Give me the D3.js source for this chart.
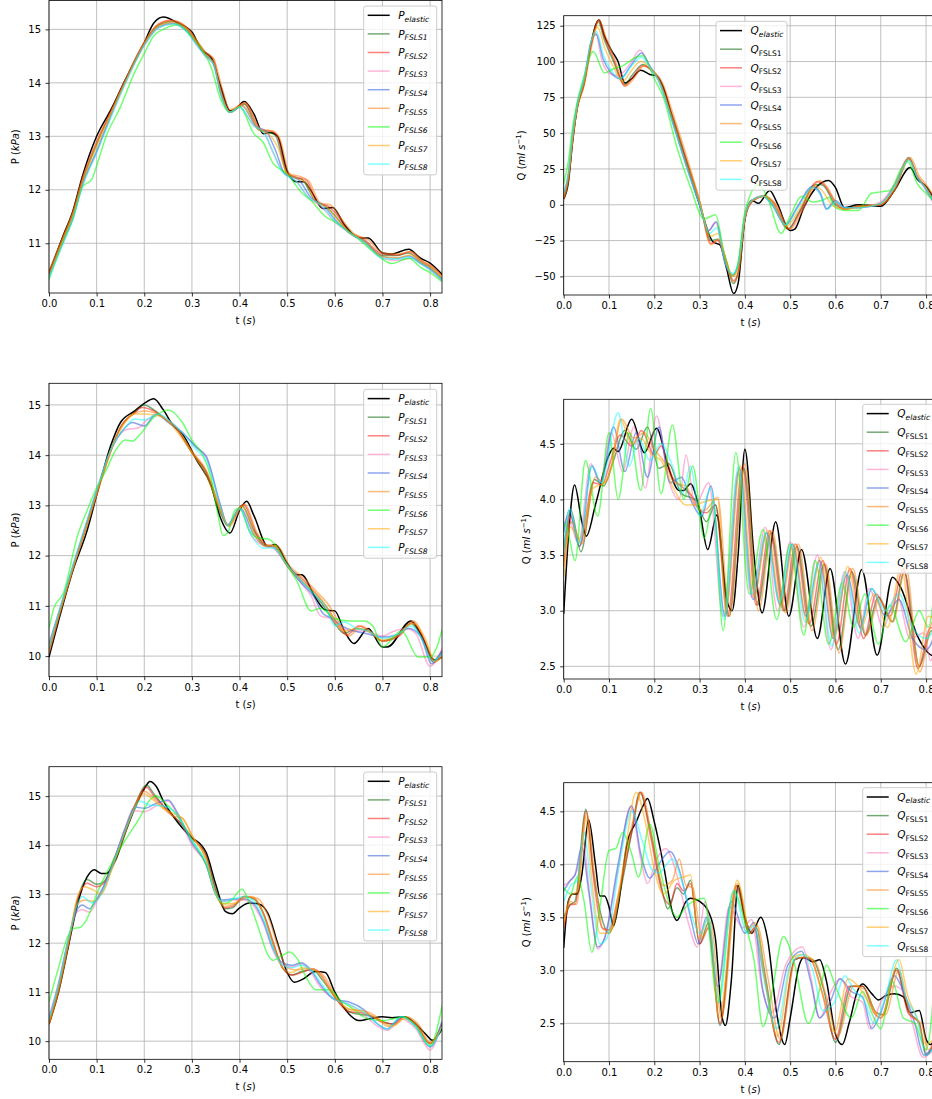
<!DOCTYPE html>
<html>
<head>
<meta charset="utf-8">
<script src="https://cdn.jsdelivr.net/npm/d3@7"></script>
<style>
  body { margin: 0; background: #fff; }
  text { font-family: "DejaVu Sans", sans-serif; font-size: 10px; fill: #000; }
</style>
</head>
<body>
<svg id="fig" width="932" height="1099"></svg>
<script>
// ---- ticks ----
const xTicks = [0, 0.1, 0.2, 0.3, 0.4, 0.5, 0.6, 0.7, 0.8]
const pTicks1 = [11, 12, 13, 14, 15]
const pTicks2 = [10, 11, 12, 13, 14, 15]
const qTicks1 = [-50, -25, 0, 25, 50, 75, 100, 125]
const qTicks2 = [2.5, 3.0, 3.5, 4.0, 4.5]

const seriesNames = ["elastic", "FSLS1", "FSLS2", "FSLS3", "FSLS4", "FSLS5", "FSLS6", "FSLS7", "FSLS8"]
const seriesColors = ["#000000", "#006400", "#ff0000", "#ff69b4", "#4169e1", "#ff7f0e", "#00ff00", "#ffa500", "#00ffff"]
const seriesAlpha = [1, 0.55, 0.5, 0.5, 0.6, 0.55, 0.55, 0.55, 0.5]

// ---- panel 1 : pressure, top ----  [t, P]
const p1_el = [[0,10.45],[0.03,11.15],[0.05,11.6],[0.07,12.25],[0.1,13.0],[0.13,13.5],[0.16,14.05],[0.2,14.75],[0.22,15.12],[0.24,15.23],[0.27,15.12],[0.3,14.95],[0.32,14.62],[0.34,14.48],[0.36,13.95],[0.38,13.48],[0.39,13.5],[0.41,13.65],[0.43,13.42],[0.45,13.05],[0.465,13.07],[0.48,13.0],[0.5,12.35],[0.52,12.15],[0.535,12.15],[0.55,11.98],[0.575,11.65],[0.595,11.67],[0.62,11.35],[0.65,11.1],[0.67,11.1],[0.7,10.82],[0.72,10.8],[0.755,10.89],[0.78,10.72],[0.8,10.63],[0.825,10.42]]
const p1_s1 = [[0,10.42],[0.03,11.1],[0.05,11.55],[0.07,12.15],[0.1,12.85],[0.13,13.45],[0.16,14.05],[0.2,14.75],[0.23,15.08],[0.26,15.15],[0.29,15.0],[0.31,14.75],[0.33,14.52],[0.345,14.4],[0.36,13.85],[0.38,13.45],[0.41,13.6],[0.44,13.12],[0.46,13.08],[0.475,13.02],[0.5,12.3],[0.52,12.22],[0.53,12.2],[0.56,11.78],[0.58,11.7],[0.6,11.52],[0.63,11.2],[0.66,11.05],[0.7,10.77],[0.73,10.77],[0.755,10.82],[0.78,10.65],[0.8,10.55],[0.825,10.35]]
const p1_s2 = [[0,10.45],[0.03,11.12],[0.05,11.57],[0.07,12.2],[0.1,12.9],[0.13,13.47],[0.16,14.05],[0.2,14.75],[0.23,15.1],[0.255,15.17],[0.29,15.02],[0.31,14.78],[0.33,14.55],[0.345,14.45],[0.36,13.9],[0.38,13.47],[0.41,13.62],[0.445,13.12],[0.465,13.1],[0.48,13.0],[0.5,12.32],[0.525,12.22],[0.54,12.18],[0.565,11.75],[0.585,11.7],[0.6,11.58],[0.63,11.22],[0.66,11.08],[0.7,10.8],[0.73,10.78],[0.758,10.84],[0.78,10.68],[0.8,10.58],[0.825,10.4]]
const p1_s3 = [[0,10.38],[0.03,11.02],[0.05,11.45],[0.07,12.08],[0.1,12.7],[0.13,13.38],[0.16,14.0],[0.2,14.7],[0.23,15.03],[0.26,15.1],[0.29,14.95],[0.31,14.72],[0.33,14.48],[0.345,14.35],[0.36,13.8],[0.38,13.45],[0.4,13.55],[0.43,13.2],[0.45,13.1],[0.47,12.7],[0.49,12.35],[0.52,12.15],[0.545,11.85],[0.57,11.7],[0.6,11.4],[0.63,11.2],[0.66,11.02],[0.7,10.72],[0.73,10.68],[0.76,10.72],[0.78,10.62],[0.8,10.5],[0.825,10.3]]
const p1_s4 = [[0,10.4],[0.03,11.05],[0.05,11.48],[0.07,12.1],[0.1,12.72],[0.13,13.4],[0.16,14.02],[0.2,14.72],[0.23,15.05],[0.26,15.12],[0.29,14.97],[0.31,14.73],[0.33,14.5],[0.345,14.38],[0.36,13.82],[0.38,13.45],[0.405,13.57],[0.435,13.18],[0.455,13.1],[0.475,12.75],[0.495,12.3],[0.525,12.18],[0.55,11.85],[0.575,11.72],[0.6,11.45],[0.63,11.2],[0.66,11.05],[0.7,10.75],[0.73,10.72],[0.755,10.76],[0.78,10.63],[0.8,10.52],[0.825,10.32]]
const p1_s5 = [[0,10.47],[0.03,11.13],[0.05,11.58],[0.07,12.2],[0.1,12.88],[0.13,13.46],[0.16,14.04],[0.2,14.76],[0.23,15.1],[0.26,15.16],[0.29,15.03],[0.31,14.8],[0.33,14.56],[0.345,14.46],[0.365,13.85],[0.38,13.5],[0.412,13.63],[0.445,13.13],[0.47,13.1],[0.485,12.95],[0.505,12.3],[0.53,12.24],[0.545,12.17],[0.57,11.75],[0.59,11.72],[0.61,11.5],[0.64,11.18],[0.67,11.07],[0.7,10.82],[0.73,10.8],[0.76,10.84],[0.785,10.66],[0.8,10.6],[0.825,10.38]]
const p1_s6 = [[0,10.32],[0.03,11.05],[0.05,11.45],[0.07,12.05],[0.09,12.2],[0.1,12.45],[0.12,13.0],[0.15,13.55],[0.18,14.2],[0.2,14.55],[0.22,14.88],[0.24,15.0],[0.27,15.08],[0.3,14.85],[0.32,14.65],[0.34,14.3],[0.36,13.7],[0.38,13.45],[0.4,13.55],[0.43,13.05],[0.45,12.88],[0.47,12.5],[0.5,12.3],[0.53,11.95],[0.55,11.8],[0.58,11.5],[0.6,11.4],[0.64,11.15],[0.68,10.85],[0.72,10.62],[0.755,10.72],[0.78,10.55],[0.8,10.45],[0.825,10.28]]
const p1_s7 = [[0,10.4],[0.03,11.08],[0.05,11.52],[0.07,12.12],[0.1,12.8],[0.13,13.42],[0.16,14.0],[0.2,14.72],[0.23,15.06],[0.26,15.13],[0.29,15.0],[0.31,14.75],[0.33,14.5],[0.345,14.38],[0.36,13.85],[0.38,13.45],[0.405,13.58],[0.44,13.12],[0.46,13.05],[0.48,12.8],[0.5,12.3],[0.525,12.2],[0.54,12.12],[0.56,11.78],[0.585,11.66],[0.6,11.5],[0.63,11.2],[0.66,11.05],[0.7,10.75],[0.73,10.73],[0.76,10.78],[0.78,10.65],[0.8,10.55],[0.825,10.35]]
const p1_s8 = [[0,10.35],[0.03,11.0],[0.05,11.45],[0.07,12.05],[0.1,12.7],[0.13,13.35],[0.16,13.98],[0.2,14.7],[0.23,15.03],[0.26,15.1],[0.29,14.95],[0.31,14.7],[0.33,14.48],[0.345,14.35],[0.36,13.8],[0.38,13.45],[0.4,13.55],[0.43,13.2],[0.45,13.08],[0.47,12.72],[0.49,12.33],[0.52,12.15],[0.545,11.85],[0.57,11.72],[0.6,11.42],[0.63,11.2],[0.66,11.03],[0.7,10.72],[0.73,10.7],[0.755,10.74],[0.78,10.62],[0.8,10.5],[0.825,10.32]]

// ---- panel 2 : flow, top ----  [t, Q]
const q1_el = [[0,4],[0.01,15],[0.02,45],[0.03,68],[0.045,85],[0.06,112],[0.078,129],[0.09,118],[0.105,108],[0.12,100],[0.135,85],[0.15,88],[0.17,94],[0.19,91],[0.205,90],[0.22,82],[0.24,60],[0.27,30],[0.3,0],[0.33,-26],[0.345,-28],[0.36,-45],[0.375,-62],[0.385,-55],[0.4,-10],[0.415,3],[0.43,1],[0.455,10],[0.47,2],[0.5,-18],[0.51,-17],[0.53,-2],[0.56,13],[0.585,17],[0.6,12],[0.62,-2],[0.65,0],[0.7,-1],[0.73,10],[0.765,26],[0.78,18],[0.8,13],[0.825,0]]
const q1_s1 = [[0,5],[0.01,18],[0.02,47],[0.03,68],[0.045,85],[0.06,112],[0.076,128],[0.09,115],[0.11,100],[0.135,84],[0.15,90],[0.175,98],[0.19,95],[0.21,88],[0.24,62],[0.27,32],[0.3,2],[0.325,-25],[0.34,-24],[0.36,-40],[0.374,-55],[0.385,-48],[0.4,-10],[0.415,2],[0.44,6],[0.46,2],[0.495,-17],[0.52,-5],[0.555,14],[0.57,14],[0.6,0],[0.62,-3],[0.65,-1],[0.7,0],[0.73,10],[0.762,33],[0.78,20],[0.8,12],[0.825,-2]]
const q1_s2 = [[0,4],[0.01,17],[0.02,46],[0.03,68],[0.045,84],[0.06,110],[0.077,129],[0.09,117],[0.11,102],[0.135,83],[0.15,88],[0.175,97],[0.19,95],[0.21,88],[0.24,62],[0.27,32],[0.3,2],[0.325,-27],[0.34,-25],[0.36,-42],[0.375,-53],[0.385,-47],[0.4,-10],[0.415,2],[0.445,6],[0.465,1],[0.497,-17],[0.52,-6],[0.56,16],[0.575,14],[0.6,2],[0.62,-3],[0.65,-1],[0.7,0],[0.73,10],[0.763,32],[0.78,20],[0.8,12],[0.825,-1]]
const q1_s3 = [[0,8],[0.01,22],[0.02,50],[0.03,70],[0.045,88],[0.06,112],[0.07,120],[0.085,100],[0.1,92],[0.12,90],[0.15,100],[0.168,108],[0.19,96],[0.21,86],[0.24,58],[0.27,28],[0.3,0],[0.32,-18],[0.335,-12],[0.355,-40],[0.373,-50],[0.385,-42],[0.4,-8],[0.415,3],[0.44,6],[0.46,0],[0.49,-14],[0.515,-2],[0.55,12],[0.565,8],[0.58,-3],[0.6,2],[0.62,-2],[0.65,-2],[0.7,2],[0.73,14],[0.76,32],[0.78,20],[0.8,10],[0.825,-4]]
const q1_s4 = [[0,7],[0.01,20],[0.02,49],[0.03,70],[0.045,87],[0.06,113],[0.072,119],[0.087,102],[0.105,92],[0.125,88],[0.15,98],[0.172,106],[0.19,97],[0.21,87],[0.24,58],[0.27,28],[0.3,0],[0.32,-18],[0.337,-12],[0.356,-40],[0.373,-49],[0.385,-42],[0.4,-8],[0.415,3],[0.44,6],[0.46,0],[0.49,-14],[0.515,-2],[0.55,13],[0.567,8],[0.58,-3],[0.6,3],[0.62,-2],[0.65,-2],[0.7,1],[0.73,13],[0.762,32],[0.78,20],[0.8,11],[0.825,-3]]
const q1_s5 = [[0,4],[0.01,16],[0.02,45],[0.03,67],[0.045,83],[0.06,108],[0.079,129],[0.092,118],[0.112,102],[0.137,83],[0.152,87],[0.178,97],[0.195,94],[0.215,87],[0.245,60],[0.275,30],[0.3,3],[0.325,-28],[0.342,-24],[0.36,-42],[0.376,-54],[0.387,-46],[0.4,-10],[0.418,3],[0.445,6],[0.467,1],[0.5,-17],[0.525,-5],[0.565,17],[0.58,13],[0.605,0],[0.625,-3],[0.65,-1],[0.7,0],[0.73,10],[0.765,33],[0.785,20],[0.8,14],[0.825,2]]
const q1_s6 = [[0,15],[0.01,30],[0.02,55],[0.03,72],[0.045,90],[0.065,107],[0.09,92],[0.11,95],[0.13,97],[0.16,103],[0.175,104],[0.2,88],[0.22,75],[0.25,40],[0.28,12],[0.31,-10],[0.325,-8],[0.335,-7],[0.355,-35],[0.372,-50],[0.385,-40],[0.4,-5],[0.43,14],[0.45,5],[0.48,-20],[0.5,-8],[0.525,6],[0.55,2],[0.57,3],[0.585,5],[0.6,-2],[0.62,-4],[0.65,-4],[0.68,8],[0.7,9],[0.72,10],[0.745,25],[0.76,30],[0.78,15],[0.8,8],[0.825,0]]
const q1_s7 = [[0,6],[0.01,20],[0.02,48],[0.03,69],[0.045,86],[0.06,113],[0.075,124],[0.09,110],[0.11,96],[0.13,86],[0.15,94],[0.17,100],[0.19,96],[0.21,87],[0.24,60],[0.27,30],[0.3,2],[0.325,-22],[0.34,-20],[0.36,-40],[0.374,-50],[0.385,-44],[0.4,-8],[0.415,3],[0.44,6],[0.46,2],[0.492,-15],[0.52,-3],[0.555,13],[0.57,10],[0.595,-1],[0.62,-3],[0.65,-2],[0.7,1],[0.73,12],[0.762,32],[0.78,20],[0.8,12],[0.825,-2]]
const q1_s8 = [[0,8],[0.01,21],[0.02,50],[0.03,70],[0.045,88],[0.06,114],[0.072,121],[0.088,104],[0.105,94],[0.125,88],[0.15,97],[0.172,103],[0.19,96],[0.21,86],[0.24,58],[0.27,28],[0.3,0],[0.322,-20],[0.338,-16],[0.356,-40],[0.373,-48],[0.385,-42],[0.4,-8],[0.415,3],[0.44,6],[0.46,0],[0.49,-14],[0.515,-3],[0.55,12],[0.567,7],[0.582,-3],[0.6,2],[0.62,-2],[0.65,-2],[0.7,1],[0.73,12],[0.762,31],[0.78,19],[0.8,11],[0.825,-3]]

// ---- panel 3 : pressure, middle ----
const p2_el = [[0,9.98],[0.02,10.7],[0.05,11.7],[0.08,12.5],[0.1,13.2],[0.13,14.2],[0.15,14.65],[0.18,14.88],[0.2,15.03],[0.22,15.12],[0.24,14.9],[0.26,14.6],[0.28,14.42],[0.31,13.9],[0.34,13.4],[0.36,12.75],[0.38,12.45],[0.4,12.9],[0.415,13.08],[0.43,12.8],[0.46,12.18],[0.475,12.22],[0.5,11.85],[0.52,11.62],[0.53,11.62],[0.56,11.15],[0.58,10.92],[0.6,10.9],[0.62,10.5],[0.64,10.25],[0.67,10.55],[0.7,10.18],[0.71,10.18],[0.76,10.7],[0.78,10.45],[0.81,9.92],[0.825,9.98]]
const p2_s1 = [[0,10.15],[0.02,10.8],[0.05,11.75],[0.08,12.65],[0.1,13.25],[0.13,14.1],[0.15,14.55],[0.18,14.85],[0.2,15.0],[0.22,14.9],[0.24,14.75],[0.27,14.5],[0.3,14.05],[0.33,13.65],[0.36,12.85],[0.375,12.6],[0.405,13.0],[0.43,12.5],[0.455,12.2],[0.47,12.2],[0.5,11.8],[0.53,11.5],[0.55,11.3],[0.58,10.95],[0.6,10.65],[0.62,10.45],[0.645,10.55],[0.67,10.5],[0.7,10.3],[0.73,10.4],[0.76,10.65],[0.79,10.2],[0.805,9.9],[0.825,10.1]]
const p2_s2 = [[0,10.1],[0.02,10.78],[0.05,11.73],[0.08,12.62],[0.1,13.22],[0.13,14.1],[0.15,14.55],[0.18,14.85],[0.195,14.95],[0.22,14.88],[0.24,14.75],[0.27,14.5],[0.3,14.05],[0.33,13.68],[0.36,12.9],[0.376,12.6],[0.408,13.02],[0.435,12.45],[0.458,12.2],[0.475,12.2],[0.5,11.8],[0.53,11.55],[0.555,11.3],[0.585,10.95],[0.605,10.65],[0.625,10.42],[0.65,10.6],[0.675,10.48],[0.7,10.3],[0.735,10.4],[0.762,10.68],[0.79,10.25],[0.807,9.88],[0.825,10.05]]
const p2_s3 = [[0,10.2],[0.02,10.85],[0.05,11.8],[0.08,12.7],[0.1,13.3],[0.13,14.1],[0.16,14.5],[0.19,14.55],[0.2,14.65],[0.23,14.8],[0.25,14.7],[0.28,14.45],[0.31,14.15],[0.33,13.95],[0.36,13.0],[0.375,12.62],[0.4,12.95],[0.425,12.4],[0.45,12.2],[0.47,12.15],[0.5,11.8],[0.53,11.45],[0.55,11.2],[0.57,10.8],[0.59,10.75],[0.61,10.6],[0.635,10.5],[0.66,10.5],[0.7,10.4],[0.72,10.48],[0.75,10.55],[0.77,10.45],[0.8,9.8],[0.825,10.15]]
const p2_s4 = [[0,10.25],[0.02,10.85],[0.05,11.78],[0.08,12.68],[0.1,13.28],[0.13,14.1],[0.16,14.55],[0.175,14.65],[0.2,14.58],[0.225,14.82],[0.25,14.65],[0.28,14.45],[0.31,14.15],[0.33,13.98],[0.36,13.0],[0.375,12.6],[0.402,12.95],[0.428,12.45],[0.452,12.2],[0.47,12.18],[0.5,11.8],[0.53,11.45],[0.555,11.2],[0.575,10.85],[0.595,10.75],[0.615,10.6],[0.64,10.5],[0.665,10.45],[0.7,10.38],[0.73,10.42],[0.755,10.55],[0.78,10.4],[0.803,9.85],[0.825,10.1]]
const p2_s5 = [[0,10.05],[0.02,10.75],[0.05,11.72],[0.08,12.6],[0.1,13.2],[0.13,14.08],[0.15,14.55],[0.18,14.83],[0.2,14.88],[0.22,14.85],[0.24,14.75],[0.27,14.52],[0.3,14.08],[0.33,13.7],[0.36,12.95],[0.378,12.58],[0.41,13.03],[0.437,12.45],[0.46,12.2],[0.478,12.2],[0.505,11.8],[0.535,11.55],[0.56,11.3],[0.59,10.98],[0.61,10.65],[0.63,10.4],[0.655,10.6],[0.68,10.45],[0.7,10.3],[0.74,10.45],[0.765,10.7],[0.79,10.3],[0.81,9.88],[0.825,10.0]]
const p2_s6 = [[0,10.55],[0.01,10.95],[0.03,11.25],[0.06,12.4],[0.08,12.9],[0.1,13.35],[0.12,13.7],[0.14,14.1],[0.16,14.3],[0.175,14.28],[0.19,14.4],[0.22,14.75],[0.25,14.9],[0.28,14.65],[0.3,14.3],[0.32,14.05],[0.34,13.55],[0.355,12.8],[0.365,12.4],[0.375,12.45],[0.39,12.9],[0.4,12.95],[0.42,12.5],[0.44,12.35],[0.46,12.33],[0.48,12.15],[0.5,11.8],[0.52,11.5],[0.55,10.9],[0.57,10.95],[0.6,10.75],[0.63,10.7],[0.66,10.7],[0.68,10.6],[0.7,10.18],[0.74,10.5],[0.775,9.98],[0.8,9.98],[0.815,10.2],[0.825,10.52]]
const p2_s7 = [[0,10.2],[0.02,10.8],[0.05,11.75],[0.08,12.65],[0.1,13.25],[0.13,14.1],[0.15,14.5],[0.18,14.82],[0.2,14.82],[0.22,14.8],[0.24,14.75],[0.27,14.45],[0.3,14.05],[0.33,13.6],[0.36,12.9],[0.377,12.6],[0.405,12.98],[0.43,12.45],[0.455,12.18],[0.47,12.2],[0.5,11.8],[0.53,11.5],[0.555,11.3],[0.58,11.02],[0.6,10.7],[0.62,10.5],[0.645,10.55],[0.67,10.5],[0.7,10.32],[0.73,10.42],[0.765,10.65],[0.79,10.35],[0.81,9.9],[0.825,10.0]]
const p2_s8 = [[0,10.15],[0.02,10.85],[0.05,11.8],[0.08,12.7],[0.1,13.3],[0.13,14.12],[0.16,14.55],[0.18,14.72],[0.2,14.7],[0.23,14.82],[0.25,14.7],[0.28,14.45],[0.31,14.1],[0.33,13.9],[0.36,12.98],[0.375,12.6],[0.4,12.93],[0.425,12.4],[0.45,12.15],[0.47,12.15],[0.5,11.82],[0.53,11.5],[0.56,11.2],[0.58,11.0],[0.6,10.6],[0.62,10.68],[0.645,10.55],[0.67,10.5],[0.7,10.35],[0.735,10.45],[0.76,10.6],[0.785,10.3],[0.805,9.9],[0.825,10.05]]

// ---- panel 4 : flow, middle ----
const q2_el = [[0,2.97],[0.012,3.75],[0.024,4.13],[0.04,3.8],[0.05,3.67],[0.07,3.95],[0.1,4.4],[0.11,4.46],[0.12,4.43],[0.15,4.72],[0.178,4.42],[0.205,4.64],[0.23,4.3],[0.255,4.08],[0.265,4.08],[0.28,4.14],[0.3,3.9],[0.318,3.55],[0.338,3.86],[0.36,3.1],[0.372,3.0],[0.385,3.5],[0.4,4.45],[0.42,3.5],[0.438,2.98],[0.468,3.8],[0.497,2.95],[0.525,3.55],[0.56,2.75],[0.588,3.38],[0.622,2.52],[0.658,3.37],[0.692,2.6],[0.726,3.3],[0.745,3.2],[0.78,2.78],[0.805,2.62],[0.825,2.58]]
const q2_s1 = [[0,3.55],[0.016,3.9],[0.038,3.53],[0.068,4.18],[0.088,4.12],[0.11,4.35],[0.135,4.62],[0.16,4.45],[0.185,4.65],[0.21,4.28],[0.232,4.32],[0.26,4.05],[0.29,4.0],[0.315,3.8],[0.335,3.95],[0.365,2.95],[0.398,4.28],[0.428,3.05],[0.458,3.7],[0.488,3.0],[0.515,3.58],[0.546,2.86],[0.575,3.42],[0.606,2.65],[0.636,3.35],[0.666,2.78],[0.695,3.12],[0.725,2.9],[0.752,3.35],[0.785,2.5],[0.812,2.82],[0.825,2.75]]
const q2_s2 = [[0,3.4],[0.015,3.85],[0.035,3.58],[0.065,4.15],[0.085,4.13],[0.1,4.3],[0.125,4.58],[0.15,4.48],[0.172,4.62],[0.2,4.4],[0.215,4.48],[0.24,4.2],[0.265,4.1],[0.285,4.02],[0.3,3.9],[0.315,3.88],[0.335,3.95],[0.362,2.95],[0.395,4.3],[0.425,3.05],[0.455,3.72],[0.485,3.0],[0.512,3.6],[0.542,2.88],[0.572,3.45],[0.602,2.7],[0.632,3.38],[0.662,2.75],[0.69,3.15],[0.72,2.95],[0.75,3.38],[0.782,2.48],[0.81,2.85],[0.825,2.78]]
const q2_s3 = [[0,3.75],[0.01,3.85],[0.032,3.6],[0.06,4.32],[0.08,4.15],[0.105,4.6],[0.13,4.25],[0.155,4.65],[0.18,4.1],[0.205,4.75],[0.23,4.2],[0.255,4.0],[0.27,4.4],[0.29,3.95],[0.32,4.15],[0.352,2.95],[0.385,4.25],[0.415,3.12],[0.445,3.75],[0.472,3.0],[0.5,3.62],[0.53,2.85],[0.56,3.5],[0.59,2.65],[0.62,3.35],[0.65,2.75],[0.675,3.2],[0.705,2.85],[0.735,3.15],[0.765,2.75],[0.795,2.8],[0.81,2.55],[0.825,2.8]]
const q2_s4 = [[0,3.7],[0.012,3.9],[0.035,3.58],[0.062,4.3],[0.082,4.15],[0.11,4.65],[0.135,4.25],[0.16,4.6],[0.185,4.2],[0.21,4.65],[0.235,4.15],[0.26,4.2],[0.28,4.0],[0.305,3.85],[0.325,4.12],[0.356,2.95],[0.388,4.28],[0.418,3.1],[0.448,3.7],[0.478,3.05],[0.505,3.6],[0.535,2.95],[0.565,3.45],[0.595,2.75],[0.625,3.32],[0.655,2.85],[0.68,3.2],[0.71,2.95],[0.74,3.1],[0.77,2.75],[0.8,2.65],[0.825,2.85]]
const q2_s5 = [[0,3.45],[0.017,3.8],[0.04,3.6],[0.07,4.2],[0.09,4.15],[0.105,4.3],[0.128,4.72],[0.155,4.55],[0.178,4.6],[0.2,4.45],[0.22,4.35],[0.245,4.15],[0.27,4.12],[0.29,3.95],[0.31,3.9],[0.34,4.02],[0.366,2.95],[0.4,4.32],[0.43,3.0],[0.46,3.72],[0.49,2.98],[0.518,3.6],[0.548,2.82],[0.578,3.42],[0.608,2.62],[0.638,3.38],[0.668,2.78],[0.697,3.1],[0.727,2.9],[0.755,3.4],[0.786,2.45],[0.815,2.9],[0.825,2.85]]
const q2_s6 = [[0,3.8],[0.01,3.7],[0.025,3.45],[0.048,4.35],[0.075,3.85],[0.1,4.6],[0.12,4.0],[0.145,4.6],[0.17,4.08],[0.192,4.82],[0.215,4.05],[0.24,4.67],[0.265,4.0],[0.285,4.3],[0.31,3.65],[0.33,3.98],[0.352,2.82],[0.38,4.42],[0.41,3.15],[0.44,3.73],[0.47,2.92],[0.5,3.6],[0.53,2.78],[0.555,3.45],[0.585,2.7],[0.615,3.25],[0.64,2.85],[0.665,3.15],[0.695,2.7],[0.72,3.05],[0.755,2.72],[0.785,3.0],[0.805,2.85],[0.825,3.5]]
const q2_s7 = [[0,3.3],[0.015,3.75],[0.035,3.65],[0.065,4.1],[0.09,4.15],[0.105,4.28],[0.125,4.72],[0.15,4.5],[0.17,4.55],[0.195,4.4],[0.215,4.35],[0.24,4.12],[0.27,3.95],[0.29,3.95],[0.31,3.98],[0.34,4.0],[0.358,3.0],[0.39,4.3],[0.42,3.12],[0.45,3.72],[0.48,3.05],[0.507,3.6],[0.537,2.9],[0.567,3.48],[0.597,2.75],[0.627,3.4],[0.657,2.85],[0.685,3.15],[0.715,2.85],[0.745,3.4],[0.778,2.43],[0.805,2.95],[0.825,2.9]]
const q2_s8 = [[0,3.5],[0.013,3.92],[0.034,3.6],[0.063,4.3],[0.083,4.15],[0.12,4.78],[0.145,4.3],[0.165,4.55],[0.19,4.35],[0.215,4.5],[0.24,4.3],[0.262,4.05],[0.28,4.3],[0.3,3.85],[0.325,4.1],[0.354,2.92],[0.386,4.3],[0.416,3.15],[0.446,3.7],[0.476,3.08],[0.503,3.6],[0.533,2.9],[0.562,3.42],[0.592,2.68],[0.622,3.35],[0.652,2.8],[0.68,3.2],[0.71,3.0],[0.74,3.15],[0.77,2.85],[0.8,2.75],[0.825,2.9]]

// ---- panel 5 : pressure, bottom ----
const p3_el = [[0,10.35],[0.02,11.0],[0.04,11.9],[0.06,12.8],[0.08,13.35],[0.095,13.5],[0.11,13.42],[0.12,13.42],[0.14,13.7],[0.16,14.25],[0.18,14.75],[0.2,15.15],[0.212,15.3],[0.225,15.2],[0.24,14.9],[0.26,14.6],[0.28,14.35],[0.3,14.15],[0.32,14.0],[0.33,13.85],[0.35,13.2],[0.37,12.65],[0.385,12.6],[0.4,12.72],[0.42,12.82],[0.44,12.8],[0.46,12.6],[0.48,12.0],[0.5,11.4],[0.515,11.2],[0.53,11.25],[0.56,11.42],[0.58,11.4],[0.6,11.0],[0.63,10.55],[0.65,10.42],[0.67,10.45],[0.7,10.5],[0.72,10.48],[0.745,10.5],[0.77,10.35],[0.79,10.15],[0.805,10.02],[0.825,10.25]]
const p3_s1 = [[0,10.35],[0.02,11.05],[0.04,11.95],[0.06,12.9],[0.08,13.3],[0.1,13.2],[0.115,13.25],[0.14,13.8],[0.16,14.3],[0.18,14.8],[0.205,15.22],[0.22,15.05],[0.24,14.8],[0.26,14.6],[0.28,14.4],[0.3,14.15],[0.33,13.8],[0.35,13.1],[0.37,12.7],[0.385,12.72],[0.41,12.95],[0.43,12.9],[0.45,12.6],[0.47,12.0],[0.49,11.5],[0.51,11.35],[0.53,11.42],[0.555,11.45],[0.57,11.3],[0.6,10.9],[0.63,10.6],[0.65,10.55],[0.68,10.5],[0.7,10.4],[0.72,10.35],[0.745,10.5],[0.77,10.35],[0.8,9.95],[0.825,10.35]]
const p3_s2 = [[0,10.35],[0.02,11.05],[0.04,11.95],[0.06,12.88],[0.08,13.22],[0.1,13.15],[0.115,13.22],[0.14,13.8],[0.16,14.3],[0.18,14.8],[0.205,15.18],[0.22,15.0],[0.24,14.8],[0.26,14.6],[0.28,14.42],[0.3,14.15],[0.33,13.78],[0.35,13.05],[0.37,12.72],[0.385,12.75],[0.41,12.95],[0.43,12.92],[0.45,12.62],[0.47,12.05],[0.49,11.5],[0.51,11.35],[0.53,11.4],[0.555,11.48],[0.575,11.3],[0.6,10.9],[0.63,10.6],[0.655,10.58],[0.68,10.5],[0.7,10.38],[0.725,10.35],[0.745,10.5],[0.77,10.35],[0.8,9.95],[0.825,10.35]]
const p3_s3 = [[0,10.5],[0.02,11.2],[0.04,12.05],[0.06,12.65],[0.07,12.68],[0.085,12.63],[0.1,12.85],[0.13,13.5],[0.16,14.35],[0.18,14.7],[0.2,14.68],[0.225,14.8],[0.25,14.9],[0.27,14.6],[0.3,14.0],[0.33,13.6],[0.35,13.0],[0.365,12.85],[0.385,12.88],[0.41,12.88],[0.43,12.75],[0.45,12.4],[0.47,11.85],[0.49,11.55],[0.51,11.52],[0.53,11.58],[0.55,11.4],[0.57,11.1],[0.6,10.85],[0.63,10.75],[0.66,10.55],[0.69,10.3],[0.71,10.22],[0.74,10.45],[0.77,10.25],[0.8,9.82],[0.825,10.4]]
const p3_s4 = [[0,10.45],[0.02,11.15],[0.04,12.05],[0.06,12.7],[0.07,12.78],[0.085,12.7],[0.1,12.9],[0.13,13.5],[0.16,14.35],[0.18,14.78],[0.2,14.75],[0.225,14.85],[0.25,14.92],[0.27,14.65],[0.3,14.05],[0.33,13.6],[0.35,13.0],[0.365,12.88],[0.385,12.9],[0.41,12.9],[0.43,12.8],[0.45,12.45],[0.47,11.9],[0.49,11.6],[0.51,11.55],[0.53,11.6],[0.55,11.45],[0.57,11.15],[0.6,10.85],[0.63,10.8],[0.66,10.65],[0.69,10.35],[0.71,10.25],[0.74,10.5],[0.77,10.3],[0.8,9.88],[0.825,10.4]]
const p3_s5 = [[0,10.33],[0.02,11.0],[0.04,11.92],[0.06,12.8],[0.075,12.88],[0.095,12.85],[0.115,13.1],[0.14,13.75],[0.16,14.3],[0.18,14.8],[0.2,15.1],[0.215,15.0],[0.24,14.75],[0.26,14.6],[0.28,14.55],[0.3,14.2],[0.33,13.7],[0.35,13.0],[0.37,12.75],[0.39,12.8],[0.42,12.95],[0.44,12.9],[0.46,12.55],[0.48,11.95],[0.5,11.5],[0.52,11.45],[0.54,11.48],[0.56,11.45],[0.58,11.3],[0.6,10.95],[0.63,10.65],[0.66,10.62],[0.69,10.48],[0.71,10.3],[0.73,10.35],[0.75,10.5],[0.775,10.35],[0.8,9.98],[0.825,10.3]]
const p3_s6 = [[0,10.8],[0.02,11.5],[0.04,12.15],[0.05,12.3],[0.065,12.32],[0.08,12.5],[0.1,13.0],[0.13,13.6],[0.16,14.1],[0.19,14.55],[0.21,14.9],[0.225,15.0],[0.245,14.85],[0.27,14.6],[0.3,14.1],[0.33,13.6],[0.35,13.0],[0.365,12.8],[0.38,12.85],[0.405,13.1],[0.42,12.85],[0.44,12.3],[0.46,11.75],[0.47,11.65],[0.49,11.75],[0.505,11.82],[0.52,11.7],[0.54,11.3],[0.56,11.05],[0.59,11.05],[0.61,10.85],[0.64,10.65],[0.67,10.45],[0.7,10.42],[0.72,10.45],[0.745,10.5],[0.77,10.3],[0.8,9.9],[0.825,10.72]]
const p3_s7 = [[0,10.38],[0.02,11.08],[0.04,12.0],[0.06,12.95],[0.075,13.15],[0.09,13.1],[0.11,13.0],[0.13,13.45],[0.16,14.25],[0.18,14.75],[0.2,15.05],[0.215,14.95],[0.24,14.75],[0.26,14.65],[0.28,14.55],[0.3,14.2],[0.33,13.7],[0.35,13.0],[0.37,12.8],[0.39,12.82],[0.41,12.95],[0.43,12.92],[0.45,12.6],[0.47,12.0],[0.49,11.5],[0.51,11.4],[0.53,11.5],[0.55,11.48],[0.57,11.35],[0.6,10.9],[0.63,10.65],[0.66,10.6],[0.69,10.45],[0.72,10.3],[0.745,10.45],[0.77,10.35],[0.8,9.95],[0.825,10.3]]
const p3_s8 = [[0,10.45],[0.02,11.15],[0.04,12.05],[0.06,12.8],[0.07,12.95],[0.09,12.82],[0.11,13.0],[0.13,13.5],[0.16,14.3],[0.18,14.75],[0.19,14.9],[0.21,14.82],[0.24,14.8],[0.26,14.7],[0.28,14.45],[0.3,14.1],[0.33,13.65],[0.35,13.0],[0.365,12.85],[0.385,12.9],[0.41,12.95],[0.43,12.85],[0.45,12.5],[0.47,11.9],[0.49,11.55],[0.51,11.5],[0.53,11.55],[0.55,11.45],[0.57,11.2],[0.6,10.85],[0.63,10.75],[0.66,10.6],[0.69,10.35],[0.71,10.25],[0.74,10.5],[0.77,10.3],[0.8,9.9],[0.825,10.3]]

// ---- panel 6 : flow, bottom ----
const q3_el = [[0,3.21],[0.01,3.65],[0.02,3.72],[0.03,3.72],[0.04,3.9],[0.055,4.42],[0.07,4.0],[0.08,3.7],[0.09,3.7],[0.1,3.6],[0.11,3.42],[0.12,3.6],[0.14,4.2],[0.16,4.4],[0.175,4.55],[0.185,4.62],[0.2,4.4],[0.22,4.0],[0.24,3.55],[0.25,3.47],[0.27,3.65],[0.28,3.68],[0.3,3.65],[0.32,3.55],[0.335,3.3],[0.35,2.55],[0.357,2.48],[0.37,2.9],[0.385,3.8],[0.4,3.5],[0.415,3.35],[0.435,3.5],[0.45,3.3],[0.47,2.6],[0.488,2.3],[0.5,2.55],[0.52,3.05],[0.53,3.12],[0.55,3.08],[0.565,3.1],[0.58,2.9],[0.6,2.4],[0.615,2.3],[0.63,2.5],[0.65,2.82],[0.66,2.87],[0.68,2.78],[0.695,2.72],[0.71,2.76],[0.73,2.78],[0.75,2.75],[0.765,2.6],[0.785,2.62],[0.8,2.35],[0.81,2.3],[0.825,2.45]]
const q3_s1 = [[0,3.5],[0.015,3.62],[0.025,3.65],[0.049,4.52],[0.065,3.95],[0.087,3.45],[0.1,3.35],[0.125,3.75],[0.15,4.3],[0.168,4.68],[0.19,4.35],[0.215,3.8],[0.23,3.58],[0.25,3.78],[0.265,3.72],[0.28,3.85],[0.3,3.25],[0.32,3.45],[0.345,2.48],[0.382,3.8],[0.41,3.35],[0.425,3.4],[0.445,2.95],[0.475,2.3],[0.51,3.1],[0.53,3.12],[0.55,3.1],[0.575,2.8],[0.6,2.32],[0.635,2.85],[0.66,2.85],[0.69,2.6],[0.705,2.58],[0.735,3.02],[0.76,2.62],[0.785,2.5],[0.8,2.2],[0.825,2.4]]
const q3_s2 = [[0,3.4],[0.015,3.62],[0.025,3.62],[0.05,4.5],[0.065,3.9],[0.085,3.4],[0.1,3.38],[0.12,3.7],[0.15,4.3],[0.17,4.68],[0.19,4.3],[0.22,3.7],[0.235,3.62],[0.25,3.82],[0.265,3.75],[0.28,3.82],[0.3,3.25],[0.32,3.4],[0.345,2.5],[0.38,3.8],[0.41,3.35],[0.42,3.4],[0.44,3.0],[0.475,2.32],[0.51,3.1],[0.525,3.12],[0.545,3.1],[0.57,2.8],[0.6,2.35],[0.63,2.85],[0.66,2.85],[0.685,2.6],[0.7,2.55],[0.735,3.0],[0.76,2.6],[0.785,2.5],[0.8,2.2],[0.825,2.45]]
const q3_s3 = [[0,3.8],[0.015,3.85],[0.03,3.95],[0.043,4.2],[0.058,3.7],[0.075,3.2],[0.09,3.3],[0.12,3.95],[0.148,4.55],[0.17,4.05],[0.185,3.82],[0.205,4.05],[0.225,4.15],[0.25,3.9],[0.275,3.45],[0.295,3.22],[0.312,3.65],[0.34,2.85],[0.365,3.6],[0.395,3.4],[0.415,3.48],[0.435,2.9],[0.46,2.6],[0.49,3.05],[0.527,3.22],[0.545,2.95],[0.565,2.55],[0.59,2.8],[0.61,2.92],[0.635,2.75],[0.66,2.7],[0.675,2.45],[0.7,2.7],[0.73,2.85],[0.75,2.8],[0.77,2.5],[0.793,2.18],[0.825,2.3]]
const q3_s4 = [[0,3.75],[0.015,3.85],[0.025,3.9],[0.04,4.17],[0.055,3.75],[0.075,3.22],[0.09,3.3],[0.12,4.0],[0.15,4.55],[0.17,4.1],[0.19,3.87],[0.21,4.0],[0.235,4.12],[0.255,3.95],[0.28,3.5],[0.297,3.25],[0.315,3.5],[0.34,2.85],[0.37,3.65],[0.4,3.35],[0.42,3.45],[0.44,2.8],[0.465,2.55],[0.495,3.05],[0.525,3.18],[0.545,2.9],[0.565,2.55],[0.59,2.72],[0.61,2.92],[0.635,2.8],[0.66,2.75],[0.68,2.45],[0.7,2.6],[0.73,2.95],[0.75,2.8],[0.775,2.5],[0.795,2.2],[0.825,2.35]]
const q3_s5 = [[0,3.42],[0.015,3.65],[0.028,3.62],[0.051,4.48],[0.068,3.9],[0.088,3.38],[0.105,3.38],[0.13,3.9],[0.155,4.45],[0.172,4.68],[0.195,4.25],[0.22,3.8],[0.24,3.85],[0.255,4.05],[0.27,3.8],[0.285,3.78],[0.305,3.3],[0.325,3.45],[0.348,2.55],[0.384,3.82],[0.412,3.35],[0.427,3.42],[0.45,2.95],[0.478,2.35],[0.513,3.12],[0.535,3.12],[0.555,3.08],[0.58,2.75],[0.605,2.38],[0.64,2.85],[0.665,2.82],[0.69,2.6],[0.71,2.58],[0.74,3.0],[0.765,2.58],[0.79,2.5],[0.805,2.25],[0.825,2.4]]
const q3_s6 = [[0,3.78],[0.015,3.72],[0.03,3.88],[0.045,3.65],[0.062,3.17],[0.08,3.6],[0.1,4.13],[0.115,4.15],[0.13,4.3],[0.15,4.1],[0.165,3.88],[0.19,4.38],[0.21,4.0],[0.235,3.6],[0.25,3.5],[0.27,3.6],[0.31,3.68],[0.34,2.7],[0.375,3.75],[0.4,3.45],[0.42,3.1],[0.44,2.47],[0.46,2.8],[0.485,3.32],[0.51,3.05],[0.54,2.5],[0.57,2.9],[0.58,3.05],[0.6,2.85],[0.635,2.55],[0.66,2.8],[0.68,2.6],[0.7,2.45],[0.725,2.9],[0.75,2.55],[0.775,2.5],[0.8,2.25],[0.812,2.55],[0.825,3.4]]
const q3_s7 = [[0,3.45],[0.015,3.7],[0.03,3.75],[0.048,4.45],[0.062,3.85],[0.08,3.35],[0.1,3.35],[0.13,3.95],[0.16,4.68],[0.18,4.4],[0.2,3.95],[0.22,3.72],[0.245,3.85],[0.265,3.88],[0.28,3.9],[0.298,3.3],[0.32,3.5],[0.343,2.55],[0.383,3.85],[0.41,3.4],[0.425,3.45],[0.442,2.98],[0.472,2.38],[0.505,3.12],[0.525,3.15],[0.545,3.12],[0.568,2.82],[0.598,2.42],[0.628,2.92],[0.65,2.85],[0.68,2.65],[0.7,2.55],[0.74,3.1],[0.76,2.75],[0.78,2.55],[0.8,2.3],[0.825,2.4]]
const q3_s8 = [[0,3.65],[0.015,3.8],[0.03,3.85],[0.045,4.3],[0.06,3.8],[0.08,3.25],[0.095,3.3],[0.125,4.05],[0.15,4.5],[0.175,4.2],[0.195,3.95],[0.21,3.92],[0.24,4.05],[0.26,3.85],[0.28,3.55],[0.3,3.35],[0.32,3.5],[0.343,2.7],[0.375,3.75],[0.405,3.35],[0.42,3.42],[0.445,2.85],[0.47,2.45],[0.5,3.05],[0.53,3.15],[0.55,3.0],[0.572,2.62],[0.598,2.7],[0.62,2.95],[0.64,2.82],[0.665,2.7],[0.685,2.5],[0.71,2.75],[0.735,3.1],[0.755,2.75],[0.78,2.55],[0.8,2.2],[0.825,2.35]]

// panel layout: plot box [left, right, top, bottom]
const panels = [
  {sym: "P", series: [p1_el,p1_s1,p1_s2,p1_s3,p1_s4,p1_s5,p1_s6,p1_s7,p1_s8],
   box: [49, 442, 0.5, 293], yDomain: [10.07, 15.54], yTicks: pTicks1, fmt: d3.format("d"),
   ylabX: 15, legend: [363.7, 6, 73], italicSub: true},
  {sym: "Q", series: [q1_el,q1_s1,q1_s2,q1_s3,q1_s4,q1_s5,q1_s6,q1_s7,q1_s8],
   box: [563.7, 937.4, 15.7, 295], yDomain: [-63, 132], yTicks: qTicks1, fmt: d3.format("d"),
   ylabX: 521.7, legend: [716, 21.3, 71], italicSub: false},
  {sym: "P", series: [p2_el,p2_s1,p2_s2,p2_s3,p2_s4,p2_s5,p2_s6,p2_s7,p2_s8],
   box: [49, 442, 383.3, 676.7], yDomain: [9.59, 15.43], yTicks: pTicks2, fmt: d3.format("d"),
   ylabX: 15, legend: [363.7, 389.3, 73], italicSub: true},
  {sym: "Q", series: [q2_el,q2_s1,q2_s2,q2_s3,q2_s4,q2_s5,q2_s6,q2_s7,q2_s8],
   box: [563.7, 937.4, 399.3, 679], yDomain: [2.386, 4.90], yTicks: qTicks2, fmt: d3.format(".1f"),
   ylabX: 526.7, legend: [862.7, 404.3, 72], italicSub: false},
  {sym: "P", series: [p3_el,p3_s1,p3_s2,p3_s3,p3_s4,p3_s5,p3_s6,p3_s7,p3_s8],
   box: [49, 442, 766.7, 1059.3], yDomain: [9.63, 15.6], yTicks: pTicks2, fmt: d3.format("d"),
   ylabX: 15, legend: [363.7, 772, 73], italicSub: true},
  {sym: "Q", series: [q3_el,q3_s1,q3_s2,q3_s3,q3_s4,q3_s5,q3_s6,q3_s7,q3_s8],
   box: [563.7, 937.4, 782.7, 1061.7], yDomain: [2.138, 4.77], yTicks: qTicks2, fmt: d3.format(".1f"),
   ylabX: 526.7, legend: [862.7, 787.7, 72], italicSub: false}
]

const svg = d3.select("#fig")
const minus = s => s.replace("-", "\u2212")

function draw_panel(p, i) {
  let [l, r, t, b] = p.box
  let x = d3.scaleLinear().domain([0, 0.825]).range([l, r])
  let y = d3.scaleLinear().domain(p.yDomain).range([b, t])
  let g = svg.append("g")

  g.append("clipPath").attr("id", "clip" + i)
    .append("rect").attr("x", l).attr("y", t).attr("width", r - l).attr("height", b - t)

  // grid
  g.append("g").selectAll("line").data(xTicks).join("line")
    .attr("x1", d => x(d)).attr("x2", d => x(d)).attr("y1", t).attr("y2", b)
    .attr("stroke", "#b0b0b0").attr("stroke-width", 0.8)
  g.append("g").selectAll("line").data(p.yTicks).join("line")
    .attr("x1", l).attr("x2", r).attr("y1", d => y(d)).attr("y2", d => y(d))
    .attr("stroke", "#b0b0b0").attr("stroke-width", 0.8)

  // axes
  let xAxis = d3.axisBottom(x).tickValues(xTicks).tickFormat(d3.format(".1f"))
    .tickSize(3.5).tickSizeOuter(0).tickPadding(3.5)
  let xg = g.append("g").attr("transform", `translate(0,${b})`).call(xAxis)
  let yAxis = d3.axisLeft(y).tickValues(p.yTicks).tickFormat(d => minus(p.fmt(d)))
    .tickSize(3.5).tickSizeOuter(0).tickPadding(4.5)
  let yg = g.append("g").attr("transform", `translate(${l},0)`).call(yAxis)
  for (let a of [xg, yg]) {
    a.select(".domain").remove()
    a.selectAll(".tick line").attr("stroke", "#000").attr("stroke-width", 0.8)
    a.selectAll(".tick text").style("font-size", "10px").attr("fill", "#000")
      .style("font-family", '"DejaVu Sans", sans-serif')
  }
  xg.selectAll(".tick text").attr("dy", "0.71em")

  // axis labels
  let xl = g.append("text").attr("x", (l + r) / 2).attr("y", b + 31)
    .attr("text-anchor", "middle")
  xl.append("tspan").text("t (")
  xl.append("tspan").attr("font-style", "italic").text("s")
  xl.append("tspan").text(")")

  let cy = (t + b) / 2
  let yl = g.append("text").attr("transform", `translate(${p.ylabX + 3.5},${cy}) rotate(-90)`)
    .attr("text-anchor", "middle")
  if (p.sym == "P") {
    yl.append("tspan").text("P (")
    yl.append("tspan").attr("font-style", "italic").text("kPa")
    yl.append("tspan").text(")")
  } else {
    yl.append("tspan").text("Q (")
    yl.append("tspan").attr("font-style", "italic").text("ml s")
    yl.append("tspan").attr("font-size", "7px").attr("dy", -4).text("\u22121")
    yl.append("tspan").attr("dy", 4).text(")")
  }

  // lines
  let line = d3.line().x(d => x(d[0])).y(d => y(d[1])).curve(d3.curveMonotoneX)
  g.append("g").attr("clip-path", `url(#clip${i})`)
    .selectAll("path").data(p.series).join("path")
    .attr("d", line)
    .attr("fill", "none")
    .attr("stroke", (d, k) => seriesColors[k])
    .attr("stroke-opacity", (d, k) => seriesAlpha[k])
    .attr("stroke-width", 1.5)
    .attr("stroke-linejoin", "round")

  // frame
  g.append("rect").attr("x", l).attr("y", t).attr("width", r - l).attr("height", b - t)
    .attr("fill", "none").attr("stroke", "#000").attr("stroke-width", 0.8)

  // legend
  let [lx, ly, lw] = p.legend
  let step = 18.6
  let lg = g.append("g")
  lg.append("rect").attr("x", lx).attr("y", ly).attr("width", lw).attr("height", step * 9 + 1.5)
    .attr("rx", 2.5).attr("fill", "#fff").attr("fill-opacity", 0.8)
    .attr("stroke", "#cccccc").attr("stroke-width", 1)
  let rows = lg.selectAll("g.row").data(seriesNames).join("g").attr("class", "row")
    .attr("transform", (d, k) => `translate(${lx},${ly + 9.3 + k * step})`)
  rows.append("line").attr("x1", 4).attr("x2", 26).attr("y1", 0).attr("y2", 0)
    .attr("stroke", (d, k) => seriesColors[k])
    .attr("stroke-opacity", (d, k) => seriesAlpha[k])
    .attr("stroke-width", 1.5)
  rows.each(function (d, k) {
    let tx = d3.select(this).append("text").attr("x", 34.5).attr("y", 3.8)
    tx.append("tspan").attr("font-style", "italic").attr("font-size", "10.5px").text(p.sym)
    tx.append("tspan").attr("font-size", "7.6px").attr("dy", 2.5)
      .attr("font-style", (k == 0 || p.italicSub) ? "italic" : "normal")
      .text(d)
  })
}

panels.forEach(draw_panel)
</script>
</body>
</html>
